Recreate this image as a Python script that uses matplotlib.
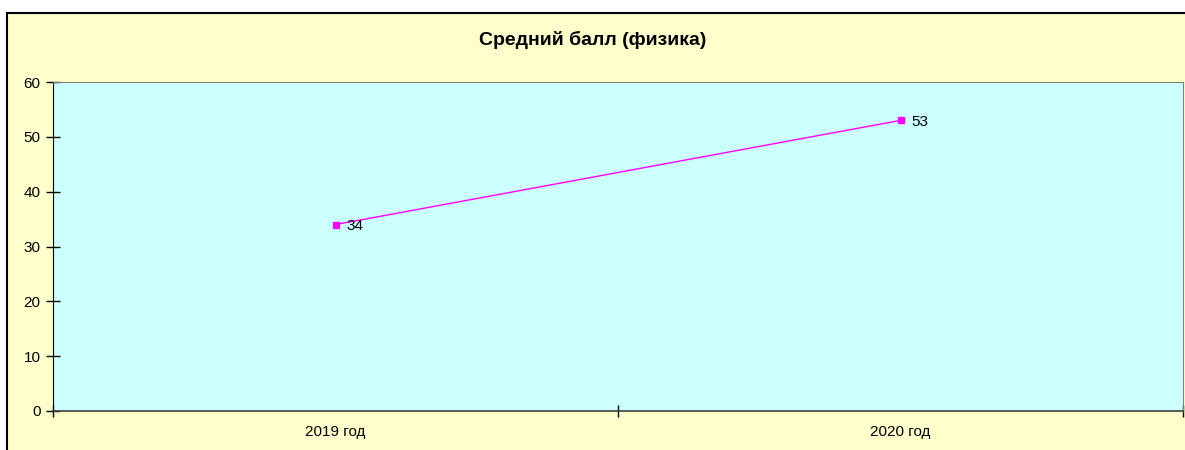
import matplotlib.pyplot as plt
from matplotlib.patches import Rectangle

plt.rcParams['font.family'] = ['Liberation Sans', 'DejaVu Sans']

years = ['2019 год', '2020 год']
scores = [34, 53]

fig = plt.figure(figsize=(11.85, 4.5), dpi=100)
fig.patch.set_facecolor('white')
# outer chart frame (cut off on right and bottom like the original)
fig.patches.append(Rectangle((7 / 1185, -0.1), 1.2, 1 - 13 / 450 + 0.1,
                             transform=fig.transFigure, facecolor='#FFFFCC',
                             edgecolor='black', linewidth=1.5, zorder=-5))

ax = fig.add_axes([53 / 1185, 39 / 450, 1130 / 1185, 329 / 450])
ax.set_facecolor('#CCFFFF')

x = list(range(len(years)))
ax.plot(x, scores, color='#FF00FF', linewidth=1, marker='s', markersize=5,
        markerfacecolor='#FF00FF', markeredgecolor='#FF00FF')
for xi, v in zip(x, scores):
    ax.annotate(str(v), (xi, v), xytext=(8, -1), textcoords='offset points',
                va='center', ha='left', fontsize=11)

ax.set_xlim(-0.5, len(years) - 0.5)
ax.set_ylim(0, 60)
ax.set_yticks(range(0, 61, 10))
ax.set_xticks([-0.5, 0.5, 1.5])
ax.set_xticklabels([])
ax.set_xticks(x, minor=True)
ax.set_xticklabels(years, minor=True)
ax.tick_params(axis='x', which='minor', length=0, labelsize=11, pad=10)
ax.tick_params(axis='x', which='major', direction='inout', length=8, width=1)
ax.tick_params(axis='y', direction='inout', length=10, width=1, labelsize=11, pad=4)

ax.spines['left'].set_color('black')
ax.spines['bottom'].set_color('#404040')
ax.spines['bottom'].set_linewidth(1.2)
ax.spines['top'].set_color('#808080')
ax.spines['right'].set_color('#808080')

fig.text(0.5, 1 - 40 / 450, 'Средний балл (физика)', ha='center', va='center',
         fontsize=14, fontweight='bold')

fig.savefig('out.png', dpi=100)
